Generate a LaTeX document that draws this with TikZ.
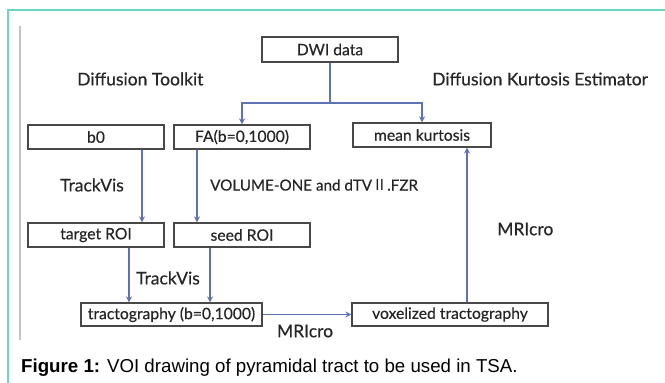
\documentclass[tikz,border=0pt]{standalone}
\usepackage{fontspec}
\setmainfont{Lato}[FakeBold=0.5]
\setsansfont{Liberation Sans}
\newfontfamily\romfont{Noto Sans CJK SC}
\usetikzlibrary{arrows.meta, positioning, calc}

\definecolor{frameteal}{RGB}{104,214,196}
\definecolor{flowblue}{RGB}{94,114,180}
\definecolor{boxgray}{RGB}{72,72,72}
\definecolor{sidegray}{RGB}{196,196,196}

\begin{document}
\begin{tikzpicture}[x=1pt, y=-1pt, >={Stealth[length=6pt,width=6pt]},
  stage/.style={draw=boxgray, line width=1.1pt, minimum width=136pt, minimum height=24pt,
    inner sep=0pt, text=black!85, font=\fontsize{15.7}{18}\selectfont},
  tool/.style={inner sep=0pt, text=black!85, font=\fontsize{17.5}{20}\selectfont},
  flow/.style={draw=flowblue, line width=1.4pt}]
\useasboundingbox (0,0) rectangle (665,383);
% 外框
\draw[frameteal, line width=1.6pt] (8,383) -- (8,10) -- (665,10);
\draw[sidegray, line width=1.2pt] (20,26) -- (20,340);
% 顶部：DWI
\node[stage, minimum height=25pt] (dwi) at (330,49.5) {DWI data};
\node[tool, anchor=west] (dtk) at (77,79) {Diffusion Toolkit};
\node[tool, anchor=west] (dke) at (432,79) {Diffusion Kurtosis Estimator};
\coordinate (split) at (330,103);
% 第一行
\node[stage] (b0) at (96,137) {b0};
\node[stage] (fa) at (242,137) {FA(b=0,1000)};
\node[stage, minimum width=138pt] (kurt) at (422,135) {mean kurtosis};
% 第二行
\node[stage] (target) at (96,235) {target ROI};
\node[stage] (seed) at (242,235) {seed ROI};
\node[tool] (tv1) at (92,185) {TrackVis};
\node[tool, anchor=west, font=\fontsize{15.2}{18}\selectfont] (vol) at (210,185) {VOLUME-ONE and dTV{\romfont Ⅱ}.FZR};
\node[tool, anchor=west] (mri1) at (497,229) {MRIcro};
% 第三行
\node[stage, minimum width=181pt, minimum height=23pt] (tract) at (171.5,314.5) {tractography (b=0,1000)};
\node[stage, minimum width=196pt, minimum height=23pt] (vox) at (450,314.5) {voxelized tractography};
\node[tool] (tv2) at (168,278) {TrackVis};
\node[tool] (mri2) at (305,331) {MRIcro};
% 连线
\draw[flow] (dwi.south) -- (split);
\draw[flow,->] (split) -| (fa.north);
\draw[flow,->] (split) -| (kurt.north);
\draw[flow,->] ([xshift=46pt]b0.south) -- ([xshift=46pt]target.north);
\draw[flow,->] ([xshift=-45pt]fa.south) -- ([xshift=-45pt]seed.north);
\draw[flow,->] ([xshift=33pt]target.south) -- ([xshift=33pt]target.south |- tract.north);
\draw[flow,->] ([xshift=-32pt]seed.south) -- ([xshift=-32pt]seed.south |- tract.north);
\draw[flow,->] (tract.east) -- (vox.west);
\draw[flow,->] ([xshift=17pt]vox.north) -- ([xshift=17pt]vox.north |- kurt.south);
% 图注
\node[anchor=west, inner sep=0pt, font=\sffamily\fontsize{18.7}{21}\selectfont] (cap) at (21,368)
  {\textbf{Figure 1:} VOI drawing of pyramidal tract to be used in TSA.};
\end{tikzpicture}
\end{document}
